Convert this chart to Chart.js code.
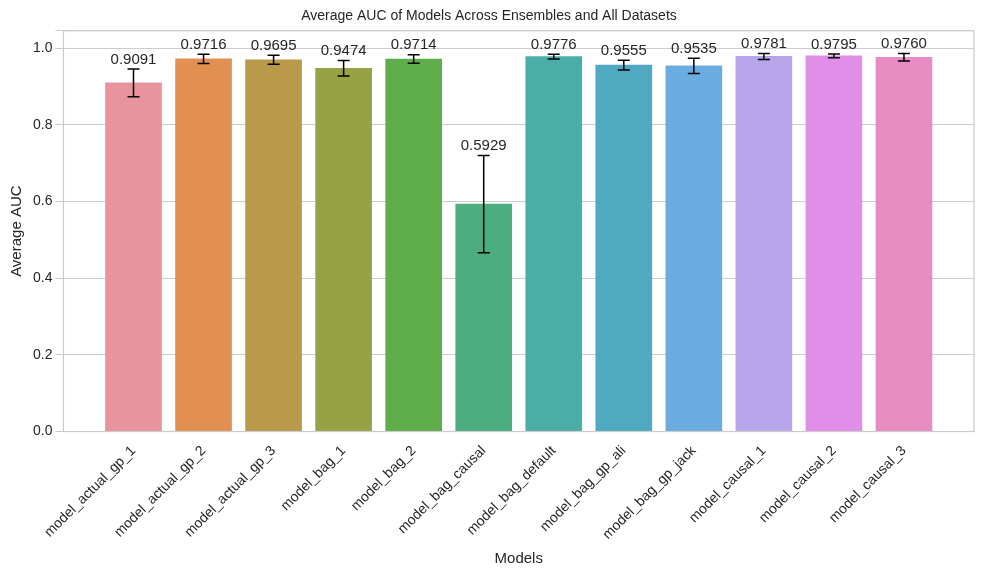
<!DOCTYPE html>
<html>
<head>
<script src="https://cdn.jsdelivr.net/npm/chart.js@4"></script>
<style>body{margin:0;background:#fff}#wrap{width:984px;height:584px}</style>
</head>
<body>
<div id="wrap"><canvas id="c" width="984" height="584"></canvas></div>
<script>
const models = ["model_actual_gp_1","model_actual_gp_2","model_actual_gp_3","model_bag_1","model_bag_2","model_bag_causal","model_bag_default","model_bag_gp_ali","model_bag_gp_jack","model_causal_1","model_causal_2","model_causal_3"];
const aucMean = [0.9091,0.9716,0.9695,0.9474,0.9714,0.5929,0.9776,0.9555,0.9535,0.9781,0.9795,0.9760];
const aucErr = [0.036,0.012,0.012,0.02,0.011,0.127,0.006,0.013,0.02,0.008,0.005,0.01];
const barColors = ["#e8939e","#e29052","#b89a4a","#97a244","#5fae4b","#4bad80","#4cada6","#4fa9c0","#6aabe0","#b7a5ea","#e08ee8","#e78cc2"];

const FONT = "'Liberation Sans', Arial, sans-serif";

const errPlugin = {
  id: "errbars",
  afterDatasetsDraw(chart) {
    const ctx = chart.ctx, y = chart.scales.y, meta = chart.getDatasetMeta(0);
    ctx.save();
    meta.data.forEach((bar, i) => {
      const x = bar.x, top = y.getPixelForValue(aucMean[i] + aucErr[i]), bot = y.getPixelForValue(aucMean[i] - aucErr[i]);
      ctx.strokeStyle = "#000"; ctx.lineWidth = 1.5;
      ctx.beginPath();
      ctx.moveTo(x, top); ctx.lineTo(x, bot);
      ctx.moveTo(x - 6, top); ctx.lineTo(x + 6, top);
      ctx.moveTo(x - 6, bot); ctx.lineTo(x + 6, bot);
      ctx.stroke();
      ctx.fillStyle = "#262626"; ctx.font = "15px " + FONT;
      ctx.textAlign = "center"; ctx.textBaseline = "bottom";
      ctx.fillText(aucMean[i].toFixed(4), x, Math.min(top, y.getPixelForValue(aucMean[i])) - 2);
    });
    const a = chart.chartArea;
    ctx.strokeStyle = "#cccccc"; ctx.lineWidth = 1.2;
    ctx.strokeRect(a.left, a.top, a.right - a.left, a.bottom - a.top);
    ctx.restore();
  }
};

new Chart(document.getElementById("c"), {
  type: "bar",
  data: { datasets: [{ data: aucMean.map((v, i) => ({ x: i, y: v })), backgroundColor: barColors, barThickness: 56 }] },
  options: {
    responsive: false, animation: false,
    layout: { padding: { left: 4, right: 10, top: 0, bottom: 12 } },
    plugins: {
      legend: { display: false }, tooltip: { enabled: false },
      title: { display: true, text: "Average AUC of Models Across Ensembles and All Datasets", color: "#262626", font: { family: FONT, size: 14, weight: "normal" }, padding: { top: 8, bottom: 6 } }
    },
    scales: {
      x: {
        type: "linear", min: -1, max: 12, offset: false,
        grid: { display: false }, border: { color: "#cccccc" },
        afterBuildTicks: s => { s.ticks = models.map((m, i) => ({ value: i })); },
        ticks: { color: "#262626", font: { family: FONT, size: 14 }, maxRotation: 45, minRotation: 45, autoSkip: false, callback: v => models[v] ?? "" },
        title: { display: true, text: "Models", color: "#262626", font: { family: FONT, size: 15 } }
      },
      y: {
        min: 0, max: 1.045,
        grid: { color: "#cccccc" }, border: { color: "#cccccc" },
        ticks: { stepSize: 0.2, color: "#262626", font: { family: FONT, size: 14 }, callback: v => (Math.abs(v*5 - Math.round(v*5)) < 1e-6) ? v.toFixed(1) : "" },
        title: { display: true, text: "Average AUC", color: "#262626", font: { family: FONT, size: 15 } }
      }
    }
  },
  plugins: [errPlugin]
});
</script>
</body>
</html>
